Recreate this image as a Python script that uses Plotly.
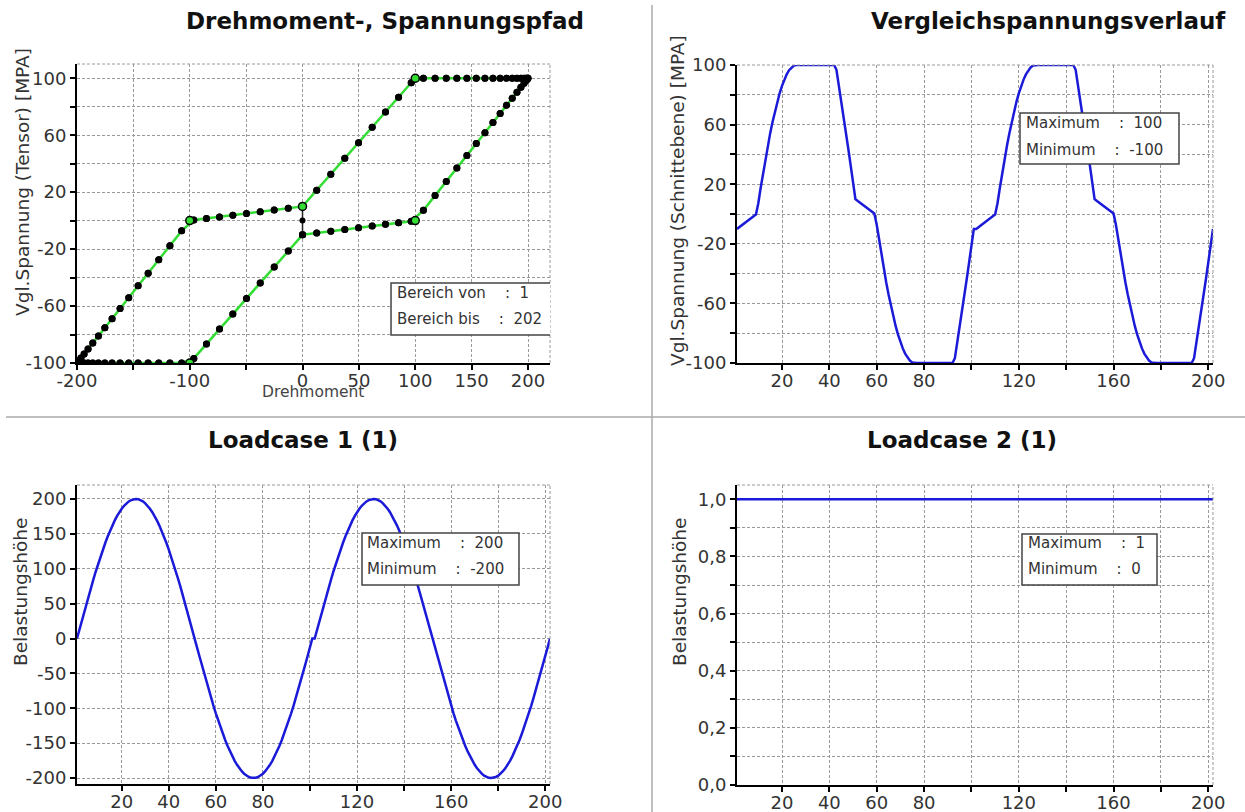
import plotly.graph_objects as go

W, H = 1245, 812
FONT = "DejaVu Sans"

# ---------------- data ----------------
schritt = list(range(1, 203))

drehmoment = [
    0.0, 12.6, 25.1, 37.5, 49.7, 61.8, 73.6, 85.2, 96.4, 107.2, 117.6, 127.5, 136.9, 145.8, 154.1, 161.8, 168.9, 175.3, 181.0, 186.0, 190.2, 193.7, 196.5, 198.4, 199.6, 200.0,
    199.6, 198.4, 196.5, 193.7, 190.2, 186.0, 181.0, 175.3, 168.9, 161.8, 154.1, 145.8, 136.9, 127.5, 117.6, 107.2, 96.4, 85.2, 73.6, 61.8, 49.7, 37.5, 25.1, 12.6, 0.0,
    -12.6, -25.1, -37.5, -49.7, -61.8, -73.6, -85.2, -96.4, -107.2, -117.6, -127.5, -136.9, -145.8, -154.1, -161.8, -168.9, -175.3, -181.0, -186.0, -190.2, -193.7, -196.5, -198.4, -199.6, -200.0,
    -199.6, -198.4, -196.5, -193.7, -190.2, -186.0, -181.0, -175.3, -168.9, -161.8, -154.1, -145.8, -136.9, -127.5, -117.6, -107.2, -96.4, -85.2, -73.6, -61.8, -49.7, -37.5, -25.1, -12.6, 0.0,
    0.0, 12.6, 25.1, 37.5, 49.7, 61.8, 73.6, 85.2, 96.4, 107.2, 117.6, 127.5, 136.9, 145.8, 154.1, 161.8, 168.9, 175.3, 181.0, 186.0, 190.2, 193.7, 196.5, 198.4, 199.6, 200.0,
    199.6, 198.4, 196.5, 193.7, 190.2, 186.0, 181.0, 175.3, 168.9, 161.8, 154.1, 145.8, 136.9, 127.5, 117.6, 107.2, 96.4, 85.2, 73.6, 61.8, 49.7, 37.5, 25.1, 12.6, 0.0,
    -12.6, -25.1, -37.5, -49.7, -61.8, -73.6, -85.2, -96.4, -107.2, -117.6, -127.5, -136.9, -145.8, -154.1, -161.8, -168.9, -175.3, -181.0, -186.0, -190.2, -193.7, -196.5, -198.4, -199.6, -200.0,
    -199.6, -198.4, -196.5, -193.7, -190.2, -186.0, -181.0, -175.3, -168.9, -161.8, -154.1, -145.8, -136.9, -127.5, -117.6, -107.2, -96.4, -85.2, -73.6, -61.8, -49.7, -37.5, -25.1, -12.6, 0.0,
]

spannung = [
    -10.0, -8.7, -7.5, -6.3, -5.0, -3.8, -2.6, -1.5, -0.4, 7.2, 17.6, 27.5, 36.9, 45.8, 54.1, 61.8, 68.9, 75.3, 81.0, 86.0, 90.2, 93.7, 96.5, 98.4, 99.6, 100.0,
    100.0, 100.0, 100.0, 100.0, 100.0, 100.0, 100.0, 100.0, 100.0, 100.0, 100.0, 100.0, 100.0, 100.0, 100.0, 100.0, 96.8, 86.7, 76.2, 65.6, 54.7, 43.8, 32.6, 21.3, 10.0,
    8.7, 7.5, 6.3, 5.0, 3.8, 2.6, 1.5, 0.4, -7.2, -17.6, -27.5, -36.9, -45.8, -54.1, -61.8, -68.9, -75.3, -81.0, -86.0, -90.2, -93.7, -96.5, -98.4, -99.6, -100.0,
    -100.0, -100.0, -100.0, -100.0, -100.0, -100.0, -100.0, -100.0, -100.0, -100.0, -100.0, -100.0, -100.0, -100.0, -100.0, -100.0, -96.8, -86.7, -76.2, -65.6, -54.7, -43.8, -32.6, -21.3, -10.0,
    -10.0, -8.7, -7.5, -6.3, -5.0, -3.8, -2.6, -1.5, -0.4, 7.2, 17.6, 27.5, 36.9, 45.8, 54.1, 61.8, 68.9, 75.3, 81.0, 86.0, 90.2, 93.7, 96.5, 98.4, 99.6, 100.0,
    100.0, 100.0, 100.0, 100.0, 100.0, 100.0, 100.0, 100.0, 100.0, 100.0, 100.0, 100.0, 100.0, 100.0, 100.0, 100.0, 96.8, 86.7, 76.2, 65.6, 54.7, 43.8, 32.6, 21.3, 10.0,
    8.7, 7.5, 6.3, 5.0, 3.8, 2.6, 1.5, 0.4, -7.2, -17.6, -27.5, -36.9, -45.8, -54.1, -61.8, -68.9, -75.3, -81.0, -86.0, -90.2, -93.7, -96.5, -98.4, -99.6, -100.0,
    -100.0, -100.0, -100.0, -100.0, -100.0, -100.0, -100.0, -100.0, -100.0, -100.0, -100.0, -100.0, -100.0, -100.0, -100.0, -100.0, -96.8, -86.7, -76.2, -65.6, -54.7, -43.8, -32.6, -21.3, -10.0,
]

belastung_lc2 = [
    1, 1, 1, 1, 1, 1, 1, 1, 1, 1, 1, 1, 1, 1, 1, 1, 1, 1, 1, 1,
    1, 1, 1, 1, 1, 1, 1, 1, 1, 1, 1, 1, 1, 1, 1, 1, 1, 1, 1, 1,
    1, 1, 1, 1, 1, 1, 1, 1, 1, 1, 1, 1, 1, 1, 1, 1, 1, 1, 1, 1,
    1, 1, 1, 1, 1, 1, 1, 1, 1, 1, 1, 1, 1, 1, 1, 1, 1, 1, 1, 1,
    1, 1, 1, 1, 1, 1, 1, 1, 1, 1, 1, 1, 1, 1, 1, 1, 1, 1, 1, 1,
    1, 1, 1, 1, 1, 1, 1, 1, 1, 1, 1, 1, 1, 1, 1, 1, 1, 1, 1, 1,
    1, 1, 1, 1, 1, 1, 1, 1, 1, 1, 1, 1, 1, 1, 1, 1, 1, 1, 1, 1,
    1, 1, 1, 1, 1, 1, 1, 1, 1, 1, 1, 1, 1, 1, 1, 1, 1, 1, 1, 1,
    1, 1, 1, 1, 1, 1, 1, 1, 1, 1, 1, 1, 1, 1, 1, 1, 1, 1, 1, 1,
    1, 1, 1, 1, 1, 1, 1, 1, 1, 1, 1, 1, 1, 1, 1, 1, 1, 1, 1, 1,
    1, 1,
]

assert len(drehmoment) == 202, len(drehmoment)
assert len(spannung) == 202, len(spannung)
assert len(belastung_lc2) == 202, len(belastung_lc2)

umkehr_drehmoment = [100, -100, 100, -100, 0]
umkehr_spannung = [100, 0, 0, -100, 10]
null_drehmoment = [0, 0, 0]
null_spannung = [10, 0, -10]

x_dreh_ticks = [-200, -150, -100, -50, 0, 50, 100, 150, 200]
x_dreh_labels = ["-200", "", "-100", "", "0", "50", "100", "150", "200"]
y_span_ticks = [-100, -80, -60, -40, -20, 0, 20, 40, 60, 80, 100]
y_span_labels = ["-100", "", "-60", "", "-20", "", "20", "", "60", "", "100"]
x_zeit_ticks = [20, 40, 60, 80, 100, 120, 140, 160, 180, 200]
x_zeit_labels = ["20", "40", "60", "80", "", "120", "", "160", "", "200"]
y_lc1_ticks = [-200, -150, -100, -50, 0, 50, 100, 150, 200]
y_lc1_labels = ["-200", "-150", "-100", "-50", "0", "50", "100", "150", "200"]
y_lc2_ticks = [0, 0.1, 0.2, 0.3, 0.4, 0.5, 0.6, 0.7, 0.8, 0.9, 1.0]
y_lc2_labels = ["0,0", "", "0,2", "", "0,4", "", "0,6", "", "0,8", "", "1,0"]

# ---------------- styling helpers ----------------
BLUE = "#1a1ad8"
GREEN = "#33dd33"


def px(p):
    return p / W


def py(p):
    return 1 - p / H


def axis(dom, rng, tv, tt, horizontal):
    d = dict(
        domain=[px(dom[0]), px(dom[1])] if horizontal else [py(dom[1]), py(dom[0])],
        range=rng,
        automargin=False,
        showline=True, linecolor="black", linewidth=2,
        ticks="outside", ticklen=5, tickwidth=1.5, tickcolor="black",
        showgrid=True, gridcolor="#9a9a9a", griddash="3px,2px", gridwidth=1,
        zeroline=False,
        tickmode="array", tickvals=tv, ticktext=tt,
        tickfont=dict(family=FONT, size=18, color="#333"),
        ticklabelstandoff=-5 if horizontal else 0,
        fixedrange=True,
    )
    return d


fig = go.Figure()

# top-left: Drehmoment-, Spannungspfad
fig.add_trace(go.Scatter(x=drehmoment, y=spannung, mode="lines+markers",
                         line=dict(color=GREEN, width=2.5),
                         marker=dict(color="black", size=7),
                         xaxis="x", yaxis="y"))
fig.add_trace(go.Scatter(x=null_drehmoment, y=null_spannung, mode="lines+markers",
                         line=dict(color="#222", width=1.5),
                         marker=dict(color="black", size=6),
                         xaxis="x", yaxis="y"))
fig.add_trace(go.Scatter(x=umkehr_drehmoment, y=umkehr_spannung, mode="markers",
                         marker=dict(color=GREEN, size=8, line=dict(color="black", width=1.5)),
                         xaxis="x", yaxis="y"))

# top-right: Vergleichspannungsverlauf
fig.add_trace(go.Scatter(x=schritt, y=spannung, mode="lines",
                         line=dict(color=BLUE, width=2.5), xaxis="x2", yaxis="y2"))
# bottom-left: Loadcase 1
fig.add_trace(go.Scatter(x=schritt, y=drehmoment, mode="lines",
                         line=dict(color=BLUE, width=2.5), xaxis="x3", yaxis="y3"))
# bottom-right: Loadcase 2
fig.add_trace(go.Scatter(x=schritt, y=belastung_lc2, mode="lines",
                         line=dict(color=BLUE, width=2.5), xaxis="x4", yaxis="y4",
                         cliponaxis=False))

TL_X, TL_Y = (77, 550), (64, 363)
TR_X, TR_Y = (737, 1213), (65, 363)
BL_X, BL_Y = (77, 550), (485, 784)
BR_X, BR_Y = (737, 1213), (485, 785)

layout = dict(
    width=W, height=H, margin=dict(l=0, r=0, t=0, b=0, autoexpand=False),
    paper_bgcolor="white", plot_bgcolor="white", showlegend=False,
    font=dict(family=FONT, color="#333"),
    xaxis=axis(TL_X, [-200, 219.5], x_dreh_ticks, x_dreh_labels, True),
    yaxis=axis(TL_Y, [-100, 110], y_span_ticks, y_span_labels, False),
    xaxis2=axis(TR_X, [1, 202], x_zeit_ticks, x_zeit_labels, True),
    yaxis2=axis(TR_Y, [-100, 100], y_span_ticks, y_span_labels, False),
    xaxis3=axis(BL_X, [1, 202], x_zeit_ticks, x_zeit_labels, True),
    yaxis3=axis(BL_Y, [-208.5, 220], y_lc1_ticks, y_lc1_labels, False),
    xaxis4=axis(BR_X, [1, 202], x_zeit_ticks, x_zeit_labels, True),
    yaxis4=axis(BR_Y, [0, 1.05], y_lc2_ticks, y_lc2_labels, False),
)
for i in ["", "2", "3", "4"]:
    layout["xaxis" + i]["anchor"] = "y" + i
    layout["yaxis" + i]["anchor"] = "x" + i
fig.update_layout(**layout)

shapes = []
annotations = []

# panel dividers
shapes.append(dict(type="line", xref="paper", yref="paper", x0=px(6), x1=1, y0=py(417), y1=py(417),
                   line=dict(color="#aaaaaa", width=1.5)))
shapes.append(dict(type="line", xref="paper", yref="paper", x0=px(652), x1=px(652), y0=py(5), y1=0,
                   line=dict(color="#aaaaaa", width=1.5)))

# dashed top / right borders of each plot
for xa, ya in [("x", "y"), ("x2", "y2"), ("x3", "y3"), ("x4", "y4")]:
    shapes.append(dict(type="line", xref=xa + " domain", yref=ya + " domain", x0=1, x1=1, y0=0, y1=1,
                       line=dict(color="#9a9a9a", width=1, dash="3px,2px")))
    shapes.append(dict(type="line", xref=xa + " domain", yref=ya + " domain", x0=0, x1=1, y0=1, y1=1,
                       line=dict(color="#9a9a9a", width=1, dash="3px,2px")))

# info boxes
shapes.append(dict(type="rect", xref="x", yref="y", x0=78.5, x1=260, y0=-80.3, y1=-43.8,
                   fillcolor="white", line=dict(color="#444", width=1.5), layer="above"))
for (x0, x1, y0, y1) in [(1020, 1179, 113, 164), (362, 519, 533, 585), (1022, 1157, 534, 585)]:
    shapes.append(dict(type="rect", xref="paper", yref="paper", x0=px(x0), x1=px(x1), y0=py(y1), y1=py(y0),
                       fillcolor="white", line=dict(color="#444", width=1.5), layer="above"))

NB = "\u00a0"
box_lines = [
    (395, 293, "Bereich von" + NB * 4 + ":" + NB * 2 + "1"),
    (395, 319, "Bereich bis" + NB * 4 + ":" + NB * 2 + "202"),
    (1024, 123, "Maximum" + NB * 4 + ":" + NB * 2 + "100"),
    (1024, 150, "Minimum" + NB * 4 + ":" + NB * 2 + "-100"),
    (365, 543, "Maximum" + NB * 4 + ":" + NB * 2 + "200"),
    (365, 569, "Minimum" + NB * 4 + ":" + NB * 2 + "-200"),
    (1026, 543, "Maximum" + NB * 4 + ":" + NB * 2 + "1"),
    (1026, 569, "Minimum" + NB * 4 + ":" + NB * 2 + "0"),
]
for x, y, t in box_lines:
    annotations.append(dict(xref="paper", yref="paper", x=px(x), y=py(y), text=t, showarrow=False,
                            xanchor="left", yanchor="middle",
                            font=dict(family=FONT, size=15, color="#333")))

# titles
for x, y, t in [(385, 21, "Drehmoment-, Spannungspfad"), (1048, 21, "Vergleichspannungsverlauf"),
                (303, 440, "Loadcase 1 (1)"), (962, 440, "Loadcase 2 (1)")]:
    annotations.append(dict(xref="paper", yref="paper", x=px(x), y=py(y), text=t, showarrow=False,
                            xanchor="center", yanchor="middle",
                            font=dict(family=FONT, size=23, color="#111", weight="bold")))

# y-axis titles
for x, y, t in [(22, 182, "Vgl.Spannung (Tensor) [MPA]"),
                (678, 201, "Vgl.Spannung (Schnittebene) [MPA]"),
                (20, 592, "Belastungshöhe"), (679, 592, "Belastungshöhe")]:
    annotations.append(dict(xref="paper", yref="paper", x=px(x), y=py(y), text=t, showarrow=False,
                            textangle=-90, xanchor="center", yanchor="middle",
                            font=dict(family=FONT, size=18.5, color="#333")))

# x-axis title of the path plot
annotations.append(dict(xref="paper", yref="paper", x=px(313), y=py(392), text="Drehmoment", showarrow=False,
                        xanchor="center", yanchor="middle", font=dict(family=FONT, size=15.5, color="#444")))

fig.update_layout(shapes=shapes, annotations=annotations)

fig.write_html("out.html", config={"displayModeBar": False})
